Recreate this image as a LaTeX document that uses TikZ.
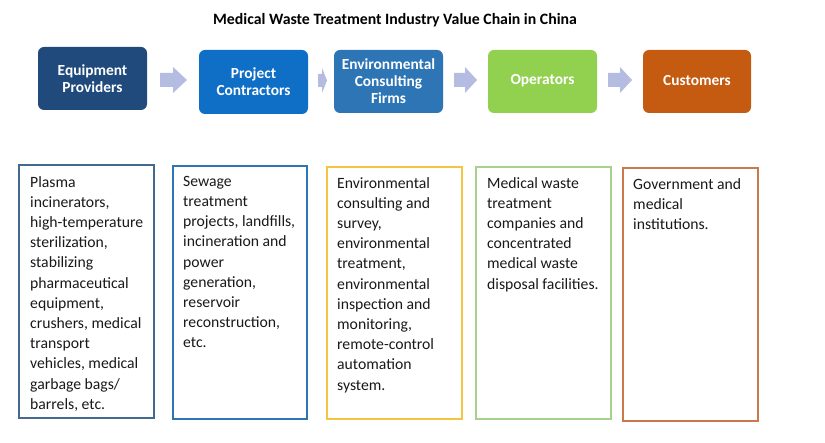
\documentclass[tikz,border=0pt]{standalone}
\usepackage{fontspec}
\setmainfont{Carlito}
\begin{document}
\begin{tikzpicture}[x=1pt,y=-1pt,
  topbox/.style={rounded corners=6pt, text=white, font=\bfseries\fontsize{15.4}{17}\selectfont, align=center},
  flowarrow/.style={fill=arrowc, draw=none},
  infobox/.style={line width=1.1pt, fill=white},
  infotext/.style={anchor=north west, inner sep=0pt, align=left, text=black!90, font=\fontsize{15.7}{20.2}\selectfont}]
\definecolor{arrowc}{HTML}{B4BDE1}
\definecolor{c1}{HTML}{1F4A7B}
\definecolor{c2}{HTML}{0F6FC6}
\definecolor{c3}{HTML}{2E75B6}
\definecolor{c4}{HTML}{92D050}
\definecolor{c5}{HTML}{C55A11}
\definecolor{b1}{HTML}{44698F}
\definecolor{b2}{HTML}{2E75B6}
\definecolor{b3}{HTML}{F4C542}
\definecolor{b4}{HTML}{A9D18E}
\definecolor{b5}{HTML}{C87A4C}
\useasboundingbox (0,0) rectangle (825,443);
\fill[white] (0,0) rectangle (825,443);

\node[font=\bfseries\fontsize{15.8}{18}\selectfont, inner sep=0pt] (title) at (395,20) {Medical Waste Treatment Industry Value Chain in China};

% top boxes
\fill[c1, rounded corners=6pt] (38,47) rectangle (147,110);
\node[topbox] (t1) at (92.5,79) {Equipment\\Providers};
\fill[c2, rounded corners=6pt] (199,50) rectangle (308,114);
\node[topbox] (t2) at (253.5,82) {Project\\Contractors};
\fill[c3, rounded corners=6pt] (334,50) rectangle (443,113);
\node[topbox] (t3) at (388.5,81) {Environmental\\Consulting\\Firms};
\fill[c4, rounded corners=6pt] (488,50) rectangle (597,113);
\node[topbox] (t4) at (542.5,81) {Operators};
\fill[c5, rounded corners=6pt] (643,50) rectangle (751,113);
\node[topbox] (t5) at (697,81) {Customers};

% arrows
\fill[flowarrow] (160,73) -- (173,73) -- (173,67) -- (187,80) -- (173,93) -- (173,87) -- (160,87) -- cycle;
\fill[flowarrow] (318,74) -- (322,74) -- (322,68) -- (327,80.5) -- (322,93) -- (322,87) -- (318,87) -- cycle;
\fill[flowarrow] (454,73) -- (465,73) -- (465,67) -- (477,80) -- (465,93) -- (465,87) -- (454,87) -- cycle;
\fill[flowarrow] (608,73) -- (620,73) -- (620,67) -- (632,80) -- (620,93) -- (620,87) -- (608,87) -- cycle;

% bottom boxes
\draw[infobox, draw=b1] (19,165) rectangle (154,418);
\node[infotext] (d1) at (30,176) {Plasma\\incinerators,\\high-temperature\\sterilization,\\stabilizing\\pharmaceutical\\equipment,\\crushers, medical\\transport\\vehicles, medical\\garbage bags/\\barrels, etc.};
\draw[infobox, draw=b2] (173,166) rectangle (307,419);
\node[infotext] (d2) at (183,176) {Sewage\\treatment\\projects, landfills,\\incineration and\\power\\generation,\\reservoir\\reconstruction,\\etc.};
\draw[infobox, draw=b3] (327,167) rectangle (462,419);
\node[infotext] (d3) at (337,177) {Environmental\\consulting and\\survey,\\environmental\\treatment,\\environmental\\inspection and\\monitoring,\\remote-control\\automation\\system.};
\draw[infobox, draw=b4] (476,167) rectangle (611,419);
\node[infotext] (d4) at (487,177) {Medical waste\\treatment\\companies and\\concentrated\\medical waste\\disposal facilities.};
\draw[infobox, draw=b5] (623,168) rectangle (758,421);
\node[infotext] (d5) at (633,178) {Government and\\medical\\institutions.};
\end{tikzpicture}
\end{document}
